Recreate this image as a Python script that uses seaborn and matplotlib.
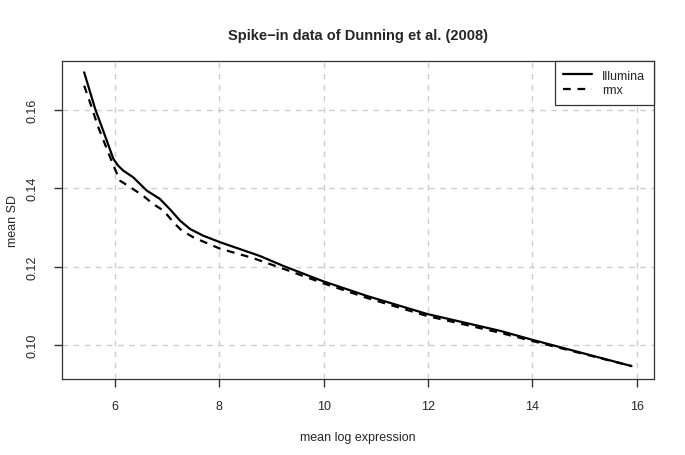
import pandas as pd
import matplotlib
matplotlib.use('Agg')
import matplotlib.pyplot as plt
import seaborn as sns

# values
illumina_x = [5.41, 5.62, 5.81, 5.97, 6.06, 6.16, 6.35, 6.61, 6.86, 7.05,
              7.25, 7.44, 7.69, 8.02, 8.78, 9.22, 9.98, 10.83, 11.98, 13.38,
              14.0, 15.9]
illumina_y = [0.1696, 0.1603, 0.1534, 0.1475, 0.1458, 0.1445, 0.1428, 0.1394,
              0.1373, 0.1347, 0.1317, 0.1296, 0.1279, 0.1262, 0.1227, 0.1202,
              0.1163, 0.1125, 0.1079, 0.1036, 0.1013, 0.0946]
rmx_x = [5.41, 5.52, 5.68, 5.87, 5.97, 6.10, 6.29, 6.54, 6.73, 6.93, 7.15,
         7.28, 7.50, 7.76, 8.01, 8.64, 9.30, 9.98, 10.83, 11.98, 13.32, 14.0,
         15.9]
rmx_y = [0.1662, 0.1620, 0.1556, 0.1492, 0.1458, 0.1419, 0.1403, 0.1381,
         0.1360, 0.1343, 0.1309, 0.1292, 0.1275, 0.1260, 0.1246, 0.1222,
         0.1191, 0.1158, 0.1120, 0.1074, 0.1033, 0.1010, 0.0946]

x_ticks = [6, 8, 10, 12, 14, 16]
y_ticks = [0.10, 0.12, 0.14, 0.16]

sns.set_style('ticks')
plt.rcParams['font.family'] = ['Liberation Sans', 'DejaVu Sans']

df_ill = pd.DataFrame({'x': illumina_x, 'y': illumina_y})
df_rmx = pd.DataFrame({'x': rmx_x, 'y': rmx_y})

fig = plt.figure(figsize=(6.85, 4.56), dpi=100)
ax = fig.add_axes([0.0905, 0.1667, 0.8642, 0.6973])

# R-style light dashed grid at the tick positions
for v in x_ticks:
    ax.axvline(v, color='#cccccc', lw=1, ls=(0, (4, 4)), zorder=0)
for v in y_ticks:
    ax.axhline(v, color='#cccccc', lw=1, ls=(0, (4, 4)), zorder=0)

sns.lineplot(data=df_ill, x='x', y='y', ax=ax, color='black', lw=1.6,
             sort=False, label='Illumina')
sns.lineplot(data=df_rmx, x='x', y='y', ax=ax, color='black', lw=1.6,
             sort=False, linestyle=(0, (3.5, 3)), label='rmx')

ax.set_xlim(4.985, 16.33)
ax.set_ylim(0.0913, 0.1725)
ax.set_xticks(x_ticks)
ax.set_yticks(y_ticks)
ax.set_xticklabels([str(v) for v in x_ticks], fontsize=9)
ax.set_yticklabels(['%.2f' % v for v in y_ticks], fontsize=9, rotation=90,
                   va='center')
ax.tick_params(axis='both', which='major', direction='out', length=6,
               width=1, color='#333333')
ax.tick_params(axis='x', pad=9)
ax.tick_params(axis='y', pad=11)
for s in ax.spines.values():
    s.set_color('#333333')
    s.set_linewidth(0.9)

ax.set_xlabel('mean log expression', fontsize=9, labelpad=14)
ax.set_ylabel('mean SD', fontsize=9, labelpad=5)
ax.set_title('Spike\u2212in data of Dunning et al. (2008)', fontsize=10.5,
             fontweight='bold', pad=16)

leg = ax.legend(loc='upper right', borderaxespad=0, fancybox=False,
                edgecolor='#333333', fontsize=9, handlelength=2.3,
                framealpha=1, borderpad=0.7, labelspacing=0.2)
leg.get_frame().set_linewidth(0.9)

fig.savefig('out.png', dpi=100)
